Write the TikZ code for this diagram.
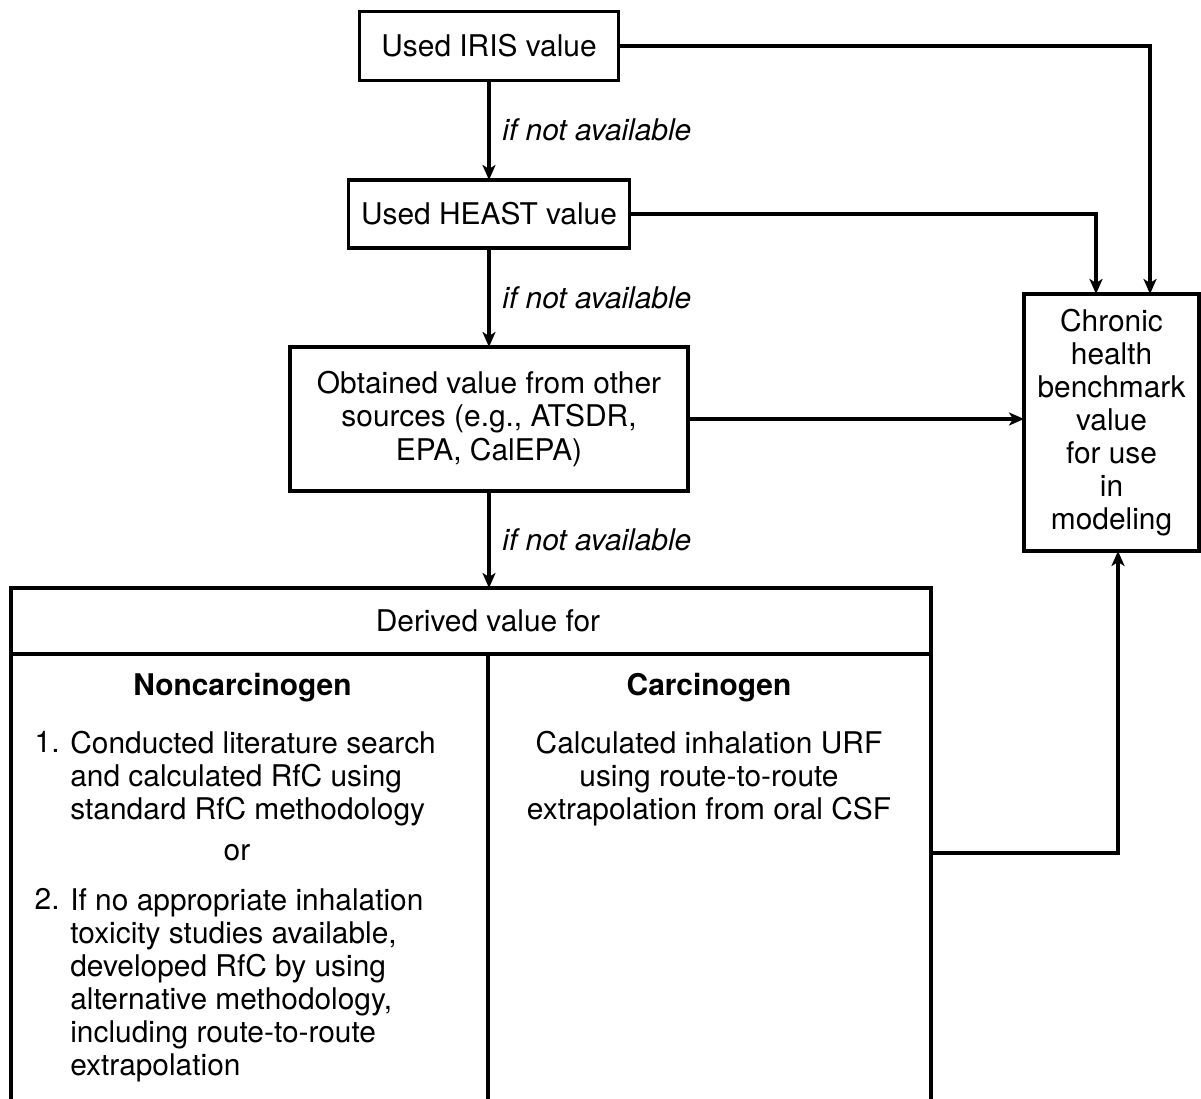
\documentclass[tikz,border=0pt]{standalone}
\usepackage{fontspec}
\setmainfont{TeX Gyre Heros}
\usetikzlibrary{arrows.meta,positioning}
\tikzset{
  box/.style={draw, line width=2.2pt, align=center, inner sep=0pt, outer sep=0pt, font=\fontsize{17}{18.8}\selectfont},
  txt/.style={inner sep=0pt, font=\fontsize{17}{18.8}\selectfont},
  cond/.style={right, xshift=0.12cm, font=\fontsize{17}{18.8}\selectfont\itshape},
  arr/.style={line width=1.8pt, -{Stealth[length=3mm,width=2.6mm,inset=0.8mm]}},
  rule/.style={line width=2.2pt}
}

\begin{document}
\begin{tikzpicture}

\useasboundingbox (0,0) rectangle (24.02,-21.98);

\begin{scope}[scale=1,shift={(0,0)}]

\node[box, minimum width=5.18cm, minimum height=1.38cm] (iris) at (9.78,-0.92) {Used IRIS value};
\node[box, minimum width=5.62cm, minimum height=1.36cm] (heast) at (9.78,-4.28) {Used HEAST value};
\node[box, minimum width=7.96cm, minimum height=2.88cm] (other) at (9.78,-8.38) {Obtained value from other\\sources (e.g., ATSDR,\\EPA, CalEPA)};
\node[box, minimum width=3.5cm, minimum height=5.14cm] (chronic) at (22.23,-8.45) {Chronic\\health\\benchmark\\value\\for use\\in\\modeling};

\node[box, minimum width=18.4cm, minimum height=10.34cm] (derived) at (9.42,-16.93) {};
\draw[rule] ([yshift=-1.32cm]derived.north west) -- ([yshift=-1.32cm]derived.north east);
\draw[rule] (9.76,-13.08) -- (9.76,-22.1);

\node[txt] (dertitle) at (9.76,-12.42) {Derived value for};
\node[txt, font=\fontsize{17}{18.8}\selectfont\bfseries] (noncarc) at (4.85,-13.76) {Noncarcinogen};
\node[txt, font=\fontsize{17}{18.8}\selectfont\bfseries] (carc) at (14.18,-13.76) {Carcinogen};

\node[txt, align=left, anchor=north west] (item1) at (1.4,-14.62) {Conducted literature search\\and calculated RfC using\\standard RfC methodology};
\node[txt, anchor=north east] (num1) at ([xshift=-0.2cm]item1.north west) {1.};
\node[txt] (ortxt) at (4.74,-17.06) {or};
\node[txt, align=left, anchor=north west] (item2) at (1.4,-17.76) {If no appropriate inhalation\\toxicity studies available,\\developed RfC by using\\alternative methodology,\\including route-to-route\\extrapolation};
\node[txt, anchor=north east] (num2) at ([xshift=-0.2cm]item2.north west) {2.};

\node[txt, align=center, anchor=north] (urf) at (14.18,-14.62) {Calculated inhalation URF\\using route-to-route\\extrapolation from oral CSF};



\draw[arr] (iris) -- (heast) node[cond, midway] {if not available};
\draw[arr] (heast) -- (other) node[cond, midway] {if not available};
\draw[arr] (other.south) -- (other.south |- derived.north) node[cond, midway] {if not available};

\draw[arr] (iris) -| ([xshift=0.77cm]chronic.north);
\draw[arr] (heast) -| ([xshift=-0.31cm]chronic.north);
\draw[arr] (other.east) -- (other.east -| chronic.west);
\draw[arr] ([yshift=-5.3cm]derived.north east) -| ([xshift=0.13cm]chronic.south);

\end{scope}

\end{tikzpicture}
\end{document}
